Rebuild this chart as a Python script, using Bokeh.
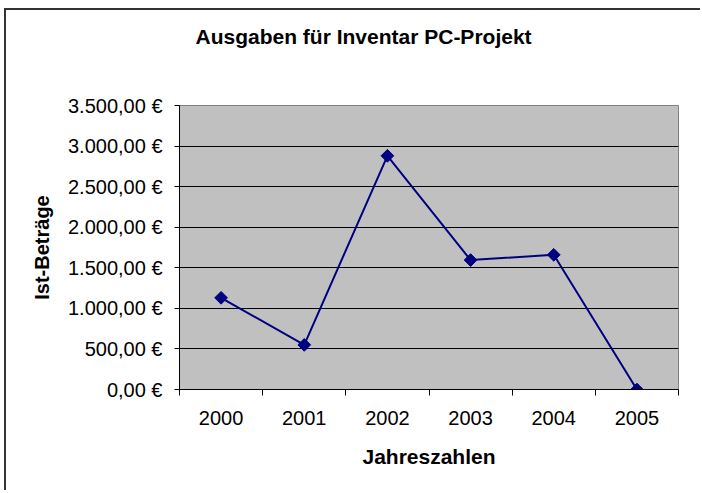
from bokeh.plotting import figure
from bokeh.models import FixedTicker, Range1d, Title
from bokeh.embed import file_html
from bokeh.resources import INLINE

# ---- data ----
years = ["2000", "2001", "2002", "2003", "2004", "2005"]
amounts = [1130, 550, 2880, 1595, 1660, 0]
y_ticks = [0, 500, 1000, 1500, 2000, 2500, 3000, 3500]
y_tick_labels = ["0,00 €", "500,00 €", "1.000,00 €", "1.500,00 €",
                 "2.000,00 €", "2.500,00 €", "3.000,00 €", "3.500,00 €"]
chart_title = "Ausgaben für Inventar PC-Projekt"
x_title = "Jahreszahlen"
y_title = "Ist-Beträge"

FONT = "Liberation Sans"
W, H = 696, 482

xs = [i + 0.5 for i in range(len(years))]
bounds = list(range(len(years) + 1))

p = figure(width=W, height=H, output_backend="svg", toolbar_location=None,
           x_range=Range1d(0, len(years)), y_range=Range1d(0, 3500),
           min_border_left=173, min_border_right=24,
           min_border_top=95, min_border_bottom=103,
           title=chart_title)
p.styles = {"margin-top": "10px", "margin-left": "6px",
            "box-shadow": "-2px -2px 0 0 #333333"}

# main title (outermost in the top panel)
p.title.align = "left"
p.title.offset = 16
p.title.text_font = FONT
p.title.text_font_style = "bold"
p.title.text_font_size = "21px"
p.title.text_color = "black"

# empty spacer between the frame and the title, lifts the title upward
p.add_layout(Title(text=" ", text_font_size="1px", standoff=50), "above")

p.background_fill_color = "#C0C0C0"
p.border_fill_color = "white"
p.outline_line_color = "#808080"
p.outline_line_width = 1
p.xgrid.visible = False
p.ygrid.ticker = FixedTicker(ticks=y_ticks)
p.ygrid.grid_line_color = "black"
p.ygrid.grid_line_width = 1

p.line(xs, amounts, line_color="#000080", line_width=2)
p.scatter(xs, amounts, marker="square", angle=0.785398, size=9,
          fill_color="#000080", line_color="#000080")

xa = p.xaxis[0]
xa.ticker = FixedTicker(ticks=xs, minor_ticks=bounds)
xa.major_label_overrides = {x: y for x, y in zip(xs, years)}
xa.major_tick_line_color = None
xa.major_tick_out = 0
xa.major_tick_in = 0
xa.minor_tick_out = 6
xa.minor_tick_in = 0
xa.minor_tick_line_color = "black"
xa.axis_line_color = "black"
xa.major_label_text_font = FONT
xa.major_label_text_font_size = "20px"
xa.major_label_text_color = "black"
xa.major_label_standoff = 15
xa.axis_label = x_title
xa.axis_label_text_font = FONT
xa.axis_label_text_font_style = "bold"
xa.axis_label_text_font_size = "21px"
xa.axis_label_text_color = "black"
xa.axis_label_standoff = 17

ya = p.yaxis[0]
ya.ticker = FixedTicker(ticks=y_ticks)
ya.major_label_overrides = {t: l for t, l in zip(y_ticks, y_tick_labels)}
ya.major_tick_out = 5
ya.major_tick_in = 0
ya.major_tick_line_color = "black"
ya.minor_tick_line_color = None
ya.axis_line_color = "black"
ya.major_label_text_font = FONT
ya.major_label_text_font_size = "20px"
ya.major_label_text_color = "black"
ya.major_label_standoff = 12
ya.axis_label = y_title
ya.axis_label_text_font = FONT
ya.axis_label_text_font_style = "bold"
ya.axis_label_text_font_size = "20px"
ya.axis_label_text_color = "black"
ya.axis_label_standoff = 12

open("out.html", "w").write(file_html(p, INLINE))
